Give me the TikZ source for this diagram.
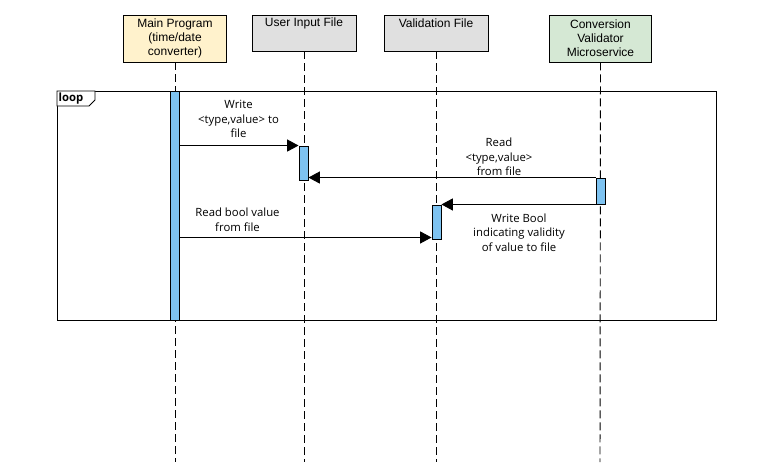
\documentclass[tikz,border=0pt]{standalone}
\usepackage{fontspec}
\setmainfont{Open Sans}
\newfontfamily\hdrfont{Liberation Sans}
\usetikzlibrary{arrows.meta}

\definecolor{mainfill}{HTML}{FFF2CC}
\definecolor{filefill}{HTML}{E0E0E0}
\definecolor{convfill}{HTML}{D5E8D4}
\definecolor{barfill}{HTML}{7EC3F1}

\tikzset{
    hdr/.style={draw, line width=0.6pt, minimum width=77pt, inner sep=0pt},
    hdrtxt/.style={font=\hdrfont\fontsize{9}{10.5}\selectfont, align=center, inner sep=0pt},
    lifeline/.style={line width=0.7pt, dash pattern=on 6pt off 3pt},
    actbar/.style={draw, fill=barfill, line width=0.7pt, minimum width=6.75pt, inner sep=0pt},
    msg/.style={line width=0.7pt, -{Triangle[length=8.5pt,width=9pt]}},
    msgtxt/.style={font=\fontsize{8.5}{10.9}\selectfont, align=center, inner sep=0pt}
}

\begin{document}
\begin{tikzpicture}[x=0.75pt,y=-0.75pt]
    \useasboundingbox (0,0) rectangle (772,465);

    % participants
    \node[hdr, fill=mainfill, minimum height=35.25pt] (main) at (175, 38.5) {};
    \node[hdr, fill=filefill, minimum height=27pt, minimum width=78pt] (user) at (304, 33) {};
    \node[hdr, fill=filefill, minimum height=27pt, minimum width=78pt] (valid) at (436, 33) {};
    \node[hdr, fill=convfill, minimum height=35.25pt] (conv) at (600.5, 38.5) {};

    \node[hdrtxt] (maintxt) at (175, 38) {Main Program\\(time/date\\converter)};
    \node[hdrtxt] (usertxt) at (304, 23) {User Input File};
    \node[hdrtxt] (validtxt) at (436, 23) {Validation File};
    \node[hdrtxt] (convtxt) at (600.5, 38) {Conversion\\Validator\\Microservice};

    % lifelines
    \coordinate (mainend) at (175, 462);
    \coordinate (userend) at (304, 462);
    \coordinate (validend) at (436, 462);
    \coordinate (convend) at (600, 462);
    \draw[lifeline] (main.south) -- (mainend);
    \draw[lifeline] (user.south) -- (userend);
    \draw[lifeline] (valid.south) -- (validend);
    \draw[lifeline] (conv.south) -- (convend);

    % loop frame
    \draw[line width=0.7pt] (57, 91) rectangle (716, 320);
    \draw[fill=white, line width=0.6pt] (57, 91) -- (57, 106) -- (89, 106) -- (95, 100) -- (95, 91) -- cycle;
    \node[font=\bfseries\fontsize{8.5}{10}\selectfont, inner sep=0pt] (looptxt) at (71, 99) {loop};

    % activations
    \node[actbar, minimum height=171.75pt] (mainbar) at (174.5, 205.5) {};
    \node[actbar, minimum height=25.5pt] (userbar) at (303.5, 163) {};
    \node[actbar, minimum height=19.5pt] (convbar) at (600.5, 191) {};
    \node[actbar, minimum height=25.5pt] (validbar) at (436.5, 222) {};

    % messages
    \draw[msg] (mainbar.east |- userbar.north) -- (userbar.north west);
    \draw[msg] (convbar.north west) -- (userbar.east |- convbar.north);
    \draw[msg] (convbar.south west) -- (validbar.east |- convbar.south);
    \draw[msg] ([yshift=1.5pt]mainbar.east |- validbar.south) -- ([yshift=1.5pt]validbar.south west);

    \node[msgtxt] (writetxt) at (238.5, 119) {Write\\<type,value> to\\file};
    \node[msgtxt] (readtxt) at (499, 157) {Read\\<type,value>\\from file};
    \node[msgtxt] (booltxt) at (519, 232.5) {Write Bool\\indicating validity\\of value to file};
    \node[msgtxt] (readbooltxt) at (237.5, 220) {Read bool value\\from file};
\end{tikzpicture}
\end{document}
